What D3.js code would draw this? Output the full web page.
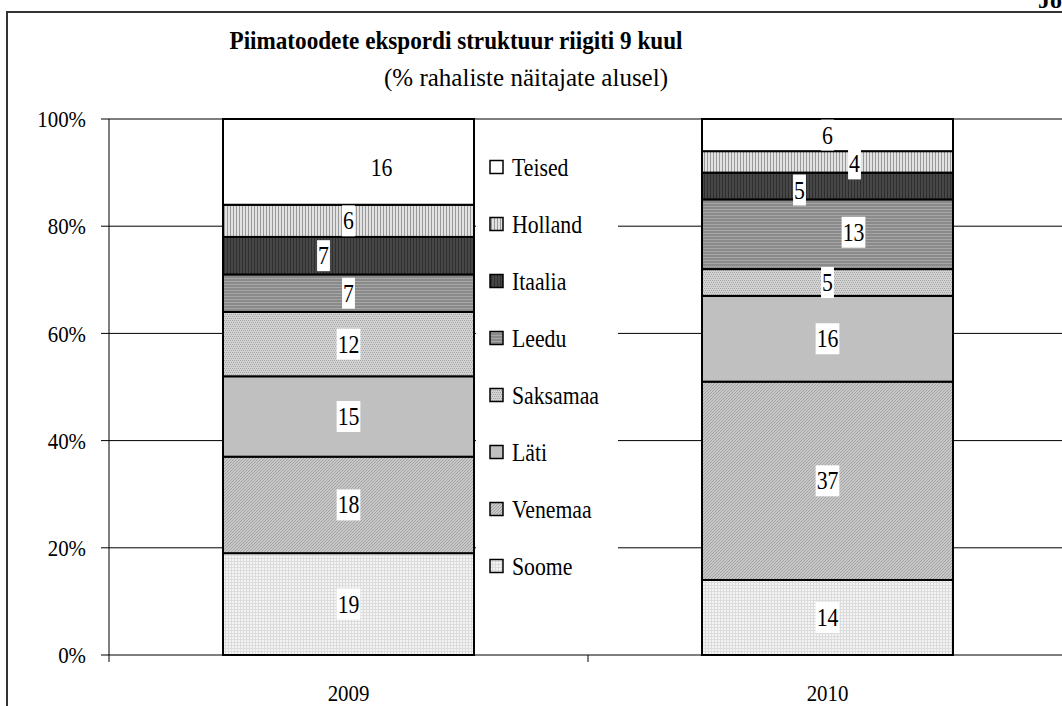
<!DOCTYPE html>
<html>
<head>
<meta charset="utf-8">
<script src="https://cdn.jsdelivr.net/npm/d3@7"></script>
<style>
  body { margin: 0; background: #fff; }
  svg text { font-family: "Liberation Serif", "Times New Roman", serif; fill: #000; }
</style>
</head>
<body>
<script>
  // data (shares in %)
  const years = ["2009", "2010"];
  const countries = ["Soome", "Venemaa", "Läti", "Saksamaa", "Leedu", "Itaalia", "Holland", "Teised"];
  const values2009 = [19, 18, 15, 12, 7, 7, 6, 16];
  const values2010 = [14, 37, 16, 5, 13, 5, 4, 6];
  const yTicks = [0, 20, 40, 60, 80, 100];

  // some labels were dragged aside in the original, [dx, dy]
  const nudge2009 = [[0,0],[0,0],[0,0],[0,0],[0,0],[-25,0],[0,0],[33,6]];
  const nudge2010 = [[0,0],[0,0],[0,0],[0,0],[26,-2],[-28,4],[27,2],[0,0]];

  const W = 1062, H = 706;
  const SX = 0.87; // the picture is squeezed horizontally

  const svg = d3.select("body").append("svg")
    .attr("width", W).attr("height", H);

  // fill patterns like the old excel ones
  const defs = svg.append("defs");
  function pat(id, w, h, bg, dots) {
    const p = defs.append("pattern").attr("id", id)
      .attr("patternUnits", "userSpaceOnUse")
      .attr("width", w).attr("height", h);
    p.append("rect").attr("width", w).attr("height", h).attr("fill", bg);
    dots.forEach(d => p.append("rect")
      .attr("x", d[0]).attr("y", d[1]).attr("width", d[2]).attr("height", d[3])
      .attr("fill", d[4]));
  }
  pat("p0", 3, 3, "#f4f4f4", [[0,0,3,1,"#dcdcdc"],[0,0,1,3,"#dcdcdc"]]);
  pat("p1", 3, 3, "#c8c8c8", [[0,2,1,1,"#a2a2a2"],[1,1,1,1,"#a2a2a2"],[2,0,1,1,"#a2a2a2"]]);
  pat("p2", 4, 4, "#c0c0c0", []);
  pat("p3", 4, 4, "#d2d2d2", [[0,0,1,1,"#a6a6a6"],[2,0,1,1,"#a6a6a6"],[1,2,1,1,"#a6a6a6"],[3,2,1,1,"#a6a6a6"]]);
  pat("p4", 3, 3, "#8a8a8a", [[0,2,3,1,"#a6a6a6"]]);
  pat("p5", 3, 3, "#474747", [[2,0,1,3,"#2e2e2e"]]);
  pat("p6", 3, 3, "#e2e2e2", [[2,0,1,3,"#999999"]]);
  pat("p7", 4, 4, "#ffffff", []);
  const fills = countries.map((c, i) => "url(#p" + i + ")");

  function txt(g, s, x, y, size, anchor) {
    return g.append("text")
      .attr("transform", "translate(" + x + "," + y + ") scale(" + SX + ",1)")
      .attr("text-anchor", anchor)
      .attr("font-size", size)
      .text(s);
  }

  // outer frame (cut by the window)
  svg.append("path")
    .attr("d", "M7,706V12H1062")
    .attr("fill", "none").attr("stroke", "#333").attr("stroke-width", 2);

  svg.append("text")
    .attr("x", 1038).attr("y", 8)
    .attr("font-size", 24).attr("font-weight", "bold")
    .text("Joonis");

  // titles
  svg.append("text")
    .attr("x", 456).attr("y", 49)
    .attr("text-anchor", "middle")
    .attr("font-size", 26).attr("font-weight", "bold")
    .attr("textLength", 453).attr("lengthAdjust", "spacingAndGlyphs")
    .text("Piimatoodete ekspordi struktuur riigiti 9 kuul");
  svg.append("text")
    .attr("x", 526).attr("y", 86)
    .attr("text-anchor", "middle")
    .attr("font-size", 25)
    .attr("textLength", 284).attr("lengthAdjust", "spacingAndGlyphs")
    .text("(% rahaliste näitajate alusel)");

  // scales
  const x = d3.scaleBand().domain(years).range([109, 1067]).padding(0);
  const y = d3.scaleLinear().domain([0, 100]).range([655, 119]);
  const barW = x.bandwidth() * 0.524;

  // grid + y axis
  svg.append("g").selectAll("line")
    .data(yTicks.filter(t => t > 0))
    .enter().append("line")
    .attr("x1", 109).attr("x2", W)
    .attr("y1", d => y(d)).attr("y2", d => y(d))
    .attr("stroke", "#000").attr("stroke-width", 1);

  const yAxis = svg.append("g");
  yAxis.append("line")
    .attr("x1", 109).attr("x2", 109)
    .attr("y1", y(100)).attr("y2", y(0) + 7)
    .attr("stroke", "#000");
  yAxis.selectAll(".tick")
    .data(yTicks).enter().append("line")
    .attr("x1", 101).attr("x2", 109)
    .attr("y1", d => y(d)).attr("y2", d => y(d))
    .attr("stroke", "#000");
  yTicks.forEach(t => txt(yAxis, t + "%", 86, y(t), 24, "end").attr("dy", "0.34em"));

  // x axis
  svg.append("line")
    .attr("x1", 109).attr("x2", W)
    .attr("y1", y(0)).attr("y2", y(0))
    .attr("stroke", "#000");
  svg.append("line")
    .attr("x1", x("2010")).attr("x2", x("2010"))
    .attr("y1", y(0)).attr("y2", y(0) + 7)
    .attr("stroke", "#000");
  years.forEach(yr => txt(svg, yr, x(yr) + x.bandwidth() / 2, 693, 24, "middle").attr("dy", "0.34em"));

  // stacked bars
  const series = { "2009": values2009, "2010": values2010 };
  const nudges = { "2009": nudge2009, "2010": nudge2010 };

  years.forEach(yr => {
    const vals = series[yr];
    const cx = x(yr) + x.bandwidth() / 2;
    let acc = 0;
    const segs = vals.map((v, i) => {
      const s = { i: i, v: v, y0: acc, y1: acc + v };
      acc += v;
      return s;
    });
    const g = svg.append("g");
    g.selectAll("rect").data(segs).enter().append("rect")
      .attr("x", cx - barW / 2)
      .attr("width", barW)
      .attr("y", d => y(d.y1))
      .attr("height", d => y(d.y0) - y(d.y1))
      .attr("fill", d => fills[d.i])
      .attr("stroke", "#000").attr("stroke-width", 2);

    segs.forEach(s => {
      const n = nudges[yr][s.i];
      const lg = g.append("g")
        .attr("transform", "translate(" + (cx + n[0]) + "," + ((y(s.y0) + y(s.y1)) / 2 + n[1]) + ")");
      const r = lg.append("rect").attr("fill", "#fff");
      const t = lg.append("text")
        .attr("transform", "scale(" + SX + ",1)")
        .attr("text-anchor", "middle")
        .attr("dy", "0.34em")
        .attr("font-size", 25)
        .text(s.v);
      const w = t.node().getComputedTextLength() * SX + 2;
      r.attr("x", -w / 2).attr("width", w).attr("y", -15.5).attr("height", 31);
    });
  });

  // legend (sits on top of the grid, white box)
  const leg = svg.append("g");
  leg.append("rect")
    .attr("x", 476).attr("y", 138).attr("width", 142).attr("height", 456)
    .attr("fill", "#fff");
  const legY = d3.scalePoint().domain(countries.slice().reverse()).range([167, 566]);
  countries.forEach((c, i) => {
    leg.append("rect")
      .attr("x", 490).attr("y", legY(c) - 6.5)
      .attr("width", 13).attr("height", 13)
      .attr("fill", fills[i])
      .attr("stroke", "#000").attr("stroke-width", 1.5);
    txt(leg, c, 512, legY(c), 25, "start").attr("dy", "0.34em");
  });
</script>
</body>
</html>
